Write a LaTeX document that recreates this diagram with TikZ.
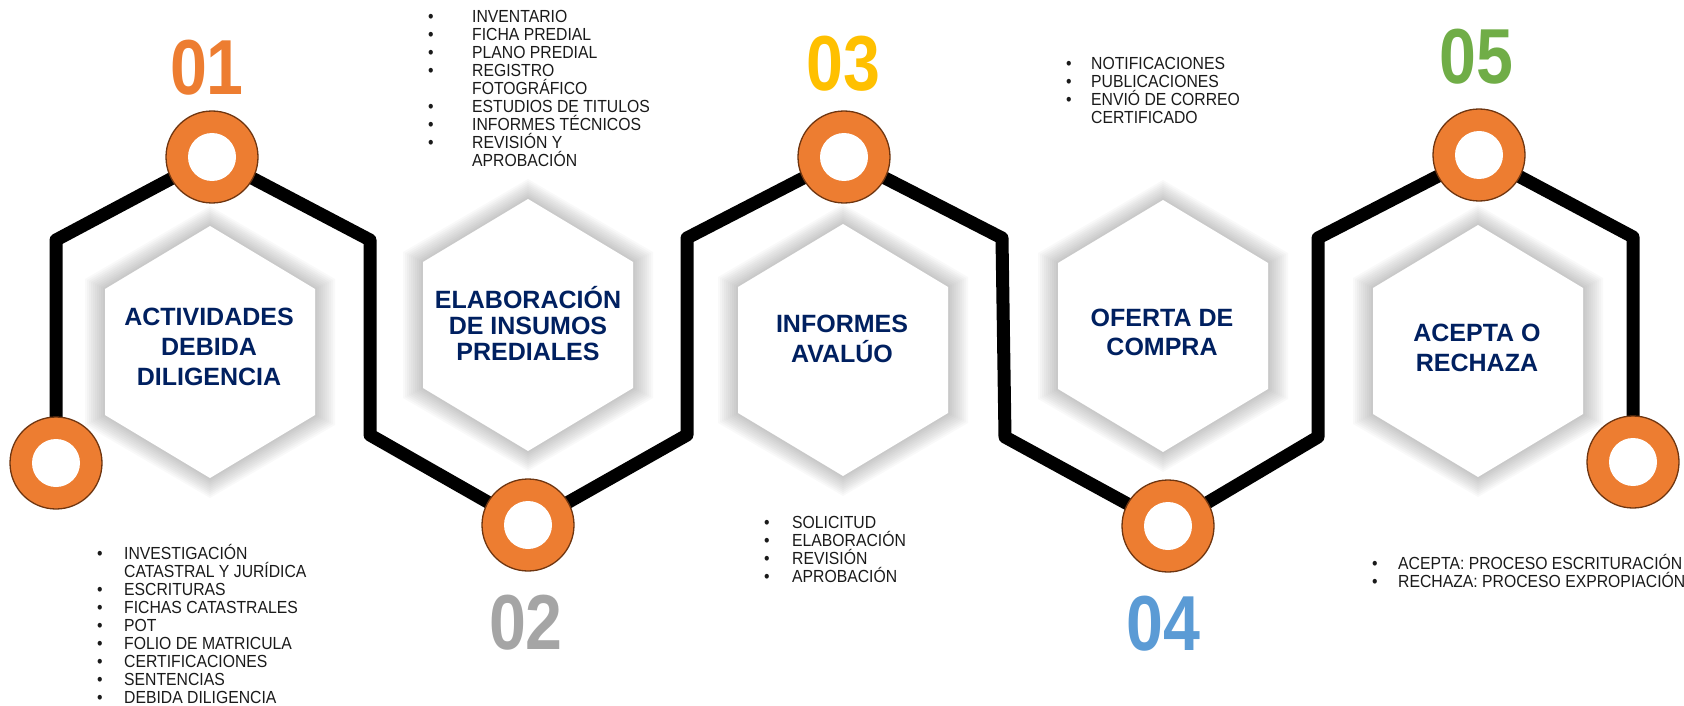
\documentclass[tikz,border=0pt]{standalone}
\usepackage{fontspec}
\setmainfont{Liberation Sans}
\newfontfamily\numfont[FakeStretch=0.85]{Liberation Sans}
\newfontfamily\lstfont[FakeStretch=0.9]{Liberation Sans}
\usetikzlibrary{backgrounds}
\definecolor{ringorange}{HTML}{ED7D31}
\definecolor{ringedge}{HTML}{6E3510}
\definecolor{navy}{HTML}{002060}
\definecolor{numgray}{HTML}{A5A5A5}
\definecolor{numyellow}{HTML}{FFC000}
\definecolor{numblue}{HTML}{5B9BD5}
\definecolor{numgreen}{HTML}{70AD47}
\definecolor{listtext}{HTML}{1A1A1A}
\newcommand{\bu}[1]{\makebox[#1][l]{\textbullet}}
\tikzset{
  ring/.style={circle, minimum size=92pt, inner sep=0pt, fill=ringorange, draw=ringedge, line width=1.3pt,
    path picture={\fill[white] (path picture bounding box.center) circle[radius=24pt];}},
  conn/.style={line width=13pt, line join=round, draw=black},
  title/.style={align=center, text=navy, inner sep=0pt, font=\bfseries\fontsize{25}{30}\selectfont},
  num/.style={inner sep=0pt, font=\numfont\bfseries\fontsize{78}{78}\selectfont},
  blist/.style={anchor=base west, inner sep=0pt, text=listtext, font=\lstfont\fontsize{17.5}{18}\selectfont},
  pics/hexbox/.style={code={
    \foreach \d in {20,18,...,2}{
      \fill[black, opacity=0.025, xscale={(105+\d)/105}, yscale={(126+\d)/126}]
        (0,-126) -- (105,-63) -- (105,63) -- (0,126) -- (-105,63) -- (-105,-63) -- cycle;
    }
    \fill[white] (0,-126) -- (105,-63) -- (105,63) -- (0,126) -- (-105,63) -- (-105,-63) -- cycle;
  }}
}
\begin{document}
\begin{tikzpicture}[x=1pt,y=-1pt]
\useasboundingbox (0,0) rectangle (1684,706);
% rings
\node[ring] (c0) at (56,463) {};
\node[ring] (c1) at (212,157) {};
\node[ring] (c2) at (528,525) {};
\node[ring] (c3) at (844,157) {};
\node[ring] (c4) at (1168,526) {};
\node[ring] (c5) at (1479,155) {};
\node[ring] (c6) at (1633,462) {};
% corners
\coordinate (k1) at (56,240);
\coordinate (k2) at (370,240);
\coordinate (k3) at (370,435);
\coordinate (k4) at (687,435);
\coordinate (k5) at (687,238);
\coordinate (k6) at (1002,238);
\coordinate (k7) at (1005,437);
\coordinate (k8) at (1318,437);
\coordinate (k9) at (1318,238);
\coordinate (k10) at (1633,237);
\begin{pgfonlayer}{background}
  \pic at (210,352) {hexbox};
  \pic at (528,325) {hexbox};
  \pic at (843,350) {hexbox};
  \pic at (1163,326) {hexbox};
  \pic at (1478,351) {hexbox};
  \draw[conn] (c0.center) -- (k1) -- (c1.center) -- (k2) -- (k3) -- (c2.center) -- (k4) -- (k5)
     -- (c3.center) -- (k6) -- (k7) -- (c4.center) -- (k8) -- (k9) -- (c5.center) -- (k10) -- (c6.center);
\end{pgfonlayer}
% titles
\node[title] (t1) at (209,347) {ACTIVIDADES\\DEBIDA\\DILIGENCIA};
\node[title, font=\bfseries\fontsize{25}{26}\selectfont] (t2) at (528,324) {ELABORACIÓN\\DE INSUMOS\\PREDIALES};
\node[title] (t3) at (842,339) {INFORMES\\AVALÚO};
\node[title, font=\bfseries\fontsize{25}{29}\selectfont] (t4) at (1162,332) {OFERTA DE\\COMPRA};
\node[title] (t5) at (1477,348) {ACEPTA O\\RECHAZA};
% numbers
\node[num, text=ringorange] (n1) at (207,68) {01};
\node[num, text=numgray] (n2) at (526,623) {02};
\node[num, text=numyellow] (n3) at (843,64) {03};
\node[num, text=numblue] (n4) at (1163,624) {04};
\node[num, text=numgreen] (n5) at (1476,57) {05};
% lists
\node[blist] (l1) at (97,559) {\begin{tabular}[t]{@{}l@{}l@{}}
\bu{27pt} & \smash{INVESTIGACIÓN}\\
 & \smash{CATASTRAL Y JURÍDICA}\\
\bu{27pt} & ESCRITURAS\\
\bu{27pt} & FICHAS CATASTRALES\\
\bu{27pt} & POT\\
\bu{27pt} & FOLIO DE MATRICULA\\
\bu{27pt} & CERTIFICACIONES\\
\bu{27pt} & SENTENCIAS\\
\bu{27pt} & DEBIDA DILIGENCIA
\end{tabular}};
\node[blist] (l2) at (428,23) {\begin{tabular}[t]{@{}l@{}l@{}}
\bu{44pt} & INVENTARIO\\
\bu{44pt} & FICHA PREDIAL\\
\bu{44pt} & PLANO PREDIAL\\
\bu{44pt} & REGISTRO\\
 & \smash{FOTOGRÁFICO}\\
\bu{44pt} & ESTUDIOS DE TITULOS\\
\bu{44pt} & \smash{INFORMES TÉCNICOS}\\
\bu{44pt} & \smash{REVISIÓN Y}\\
 & \smash{APROBACIÓN}
\end{tabular}};
\node[blist] (l3) at (764,528) {\begin{tabular}[t]{@{}l@{}l@{}}
\bu{28pt} & SOLICITUD\\
\bu{28pt} & \smash{ELABORACIÓN}\\
\bu{28pt} & \smash{REVISIÓN}\\
\bu{28pt} & \smash{APROBACIÓN}
\end{tabular}};
\node[blist] (l4) at (1066,70) {\begin{tabular}[t]{@{}l@{}l@{}}
\bu{25pt} & NOTIFICACIONES\\
\bu{25pt} & PUBLICACIONES\\
\bu{25pt} & \smash{ENVIÓ DE CORREO}\\
 & CERTIFICADO
\end{tabular}};
\node[blist] (l5) at (1372,569) {\begin{tabular}[t]{@{}l@{}l@{}}
\bu{26pt} & \smash{ACEPTA: PROCESO ESCRITURACIÓN}\\
\bu{26pt} & \smash{RECHAZA: PROCESO EXPROPIACIÓN}
\end{tabular}};
\end{tikzpicture}
\end{document}
